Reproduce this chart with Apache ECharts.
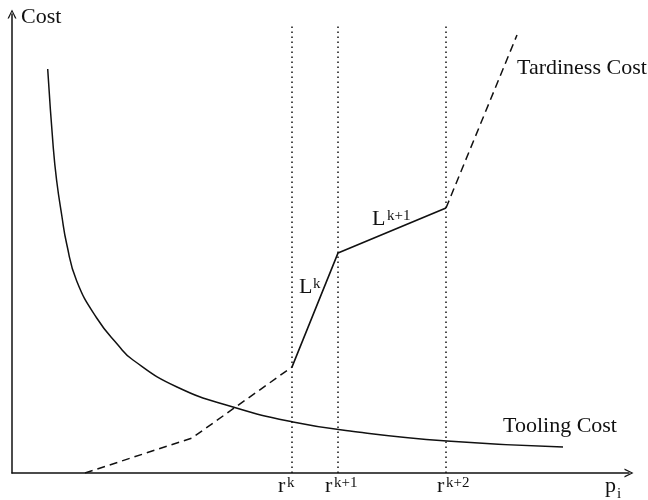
<!DOCTYPE html>
<html>
<head>
<meta charset="utf-8">
<script src="https://cdn.jsdelivr.net/npm/echarts@6/dist/echarts.min.js"></script>
<style>html,body{margin:0;padding:0;background:#fff;}#chart{width:648px;height:500px;}</style>
</head>
<body>
<div id="chart"></div>
<script>
// ---- data (axis units) ----
const xMax = 617;
const yMax = 459;
const toolingX = [35.7, 41.3, 44.7, 49.7, 54.7, 64.7, 84.7, 106, 121, 165, 221, 281, 338, 435, 551];
const toolingY = [404, 325, 292, 258, 229, 192, 155, 128, 113, 86, 66, 51, 42, 32, 26];
const tardX = [73, 180, 280, 326, 434, 505];
const tardY = [0, 35, 106, 220, 265, 438];
const rValues = [280, 326, 434];
const rTop = 447;
const rLabels = ['k', 'k+1', 'k+2'];

// ---- build series ----
const zip = (xs, ys) => xs.map((x, i) => [x, ys[i]]);
const tard = zip(tardX, tardY);
const ink = '#111';
const serifFont = '"Liberation Serif","Times New Roman",serif';

const series = [
  {
    type: 'line', data: zip(toolingX, toolingY), showSymbol: false, smooth: 0.5,
    lineStyle: { color: ink, width: 1.5 }, silent: true
  },
  {
    type: 'line', data: tard.slice(0, 3), showSymbol: false,
    lineStyle: { color: ink, width: 1.5, type: [8, 5] }, silent: true
  },
  {
    type: 'line', data: tard.slice(2, 5), showSymbol: false,
    lineStyle: { color: ink, width: 1.7 }, silent: true
  },
  {
    type: 'line', data: tard.slice(4, 6), showSymbol: false,
    lineStyle: { color: ink, width: 1.5, type: [8, 5] }, silent: true
  }
];
rValues.forEach(r => {
  series.push({
    type: 'line', data: [[r, 0], [r, rTop]], showSymbol: false,
    lineStyle: { color: ink, width: 1.5, type: [1.5, 3.5] }, silent: true
  });
});

const arrowPath = 'path://M0,100 L50,0 L100,100 L84,100 L50,26 L16,100 Z';

const axisCommon = {
  type: 'value', min: 0,
  axisLine: { show: true, symbol: ['none', arrowPath], symbolSize: [9, 13], lineStyle: { color: ink, width: 1.5 } },
  axisTick: { show: false }, axisLabel: { show: false }, splitLine: { show: false }
};

// text helper: x = left, b = baseline
function txt(str, x, b, size) {
  return {
    type: 'text', x: x, y: b - 0.3375 * size, silent: true,
    style: { text: str, font: size + 'px ' + serifFont, fill: ink, align: 'left', verticalAlign: 'middle' }
  };
}

const big = 22, small = 15;
const graphics = [
  txt('Cost', 21, 25, big),
  txt('Tardiness Cost', 517, 76, big),
  txt('Tooling Cost', 503, 434, big),
  txt('L', 299, 295, big), txt('k', 313, 289, small),
  txt('L', 372, 227, big), txt('k+1', 387, 221, small),
  txt('p', 605, 494, big), txt('i', 617, 499, small)
];
const rLeft = [278, 325, 437];
rLabels.forEach((s, i) => {
  graphics.push(txt('r', rLeft[i], 494, big));
  graphics.push(txt(s, rLeft[i] + 9, 488, small));
});

const chart = echarts.init(document.getElementById('chart'), null, { renderer: 'canvas' });
chart.setOption({
  backgroundColor: '#fff',
  animation: false,
  grid: { left: 12, right: 19, top: 14, bottom: 27, containLabel: false },
  xAxis: Object.assign({}, axisCommon, { max: xMax }),
  yAxis: Object.assign({}, axisCommon, { max: yMax }),
  series: series,
  graphic: graphics
});
</script>
</body>
</html>
